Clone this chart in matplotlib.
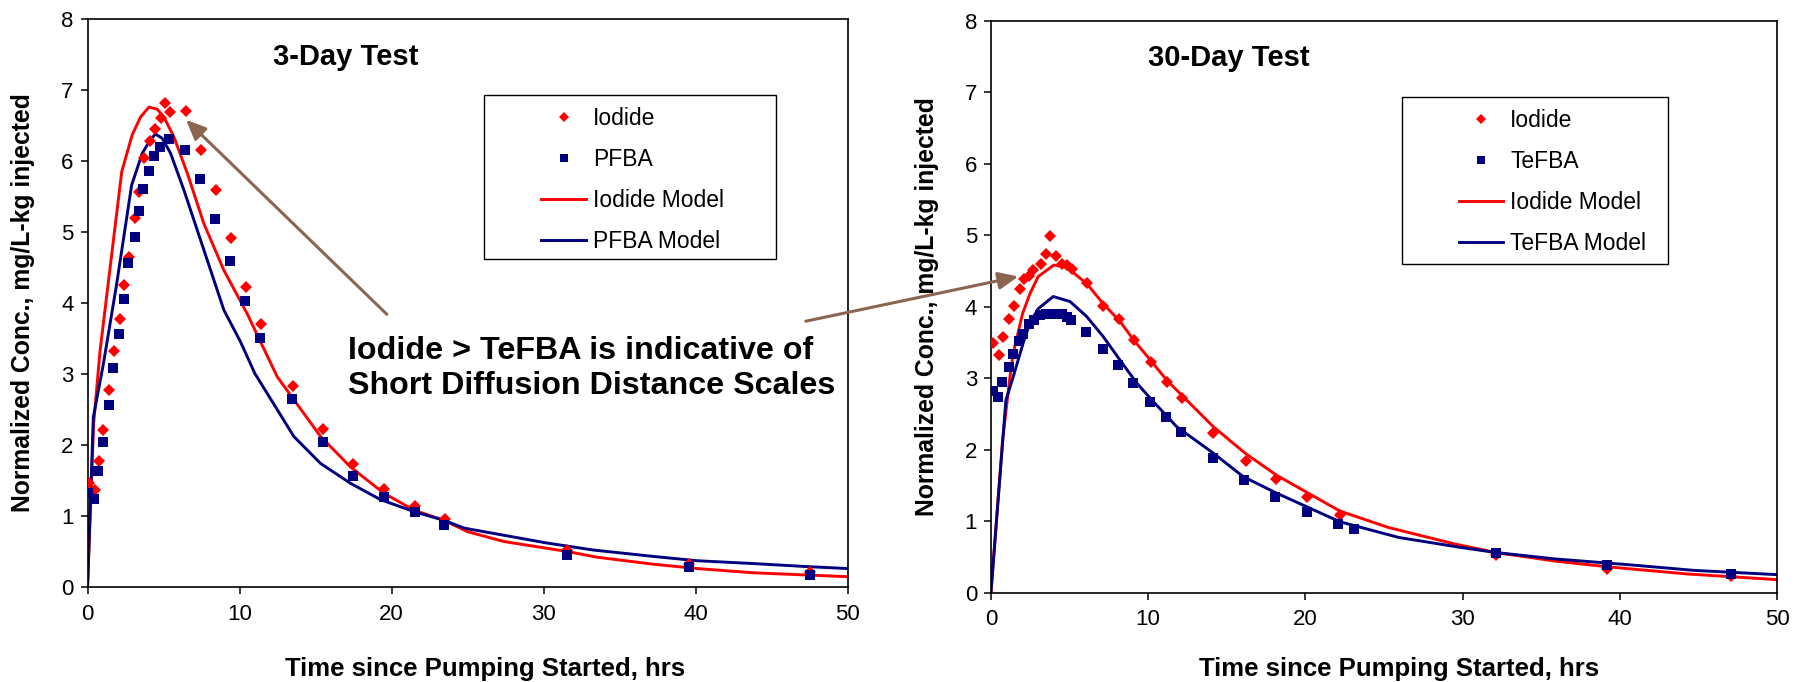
import matplotlib
matplotlib.use("Agg")
import matplotlib.pyplot as plt
from matplotlib.lines import Line2D
from matplotlib.patches import Rectangle

# ── 3-Day test ────────────────────────────────────────────────────────
d3_iod_t = [0.07, 0.46, 0.74, 1.03, 1.43, 1.73, 2.13, 2.43, 2.72, 3.13, 3.40, 3.73,
            4.10, 4.45, 4.80, 5.11, 5.42, 6.47, 7.48, 8.44, 9.43, 10.44, 11.40,
            13.51, 15.46, 17.43, 19.47, 21.51, 23.49, 31.56, 39.56, 47.52]
d3_iod_c = [1.47, 1.37, 1.77, 2.21, 2.78, 3.33, 3.78, 4.25, 4.65, 5.20, 5.56, 6.04,
            6.28, 6.45, 6.60, 6.82, 6.69, 6.70, 6.15, 5.59, 4.92, 4.23, 3.71,
            2.83, 2.23, 1.73, 1.38, 1.14, 0.96, 0.52, 0.32, 0.21]
d3_trc_t = [0.02, 0.44, 0.72, 1.01, 1.40, 1.68, 2.08, 2.37, 2.68, 3.09, 3.36, 3.68,
            4.06, 4.39, 4.76, 5.35, 6.43, 7.43, 8.40, 9.39, 10.39, 11.36,
            13.44, 15.46, 17.43, 19.47, 21.51, 23.44, 31.56, 39.56, 47.52]
d3_trc_c = [1.32, 1.24, 1.64, 2.04, 2.56, 3.08, 3.57, 4.05, 4.57, 4.93, 5.30, 5.61,
            5.86, 6.07, 6.20, 6.31, 6.16, 5.75, 5.19, 4.59, 4.03, 3.51,
            2.65, 2.04, 1.57, 1.27, 1.05, 0.88, 0.45, 0.28, 0.17]
d3_iod_mod_t = [0, 0.4, 0.82, 1.48, 2.25, 2.94, 3.49, 4.04, 4.58, 5.02, 5.68, 6.56,
                7.65, 8.97, 10.5, 12.48, 15.33, 17.3, 19.5, 21.5, 23.44, 24.98,
                27.4, 31.56, 33.5, 37.25, 40.1, 43.8, 50]
d3_iod_mod_c = [0, 2.3, 3.32, 4.49, 5.85, 6.37, 6.62, 6.76, 6.73, 6.62, 6.34, 5.83,
                5.12, 4.46, 3.85, 2.96, 2.12, 1.69, 1.32, 1.08, 0.94, 0.78,
                0.64, 0.50, 0.42, 0.32, 0.26, 0.20, 0.145]
d3_trc_mod_t = [0, 0.38, 1.04, 1.91, 2.9, 3.6, 4.14, 4.47, 4.91, 5.46, 6.34, 7.43,
                8.97, 10.07, 11.0, 13.57, 15.33, 17.3, 19.28, 21.5, 23.44, 24.76,
                30.2, 33.3, 37.25, 40.1, 43.8, 47.1, 50]
d3_trc_mod_c = [0, 2.39, 3.14, 4.26, 5.66, 6.11, 6.30, 6.38, 6.32, 6.11, 5.59, 4.89,
                3.90, 3.45, 3.01, 2.12, 1.74, 1.46, 1.23, 1.06, 0.94, 0.83,
                0.62, 0.52, 0.43, 0.37, 0.33, 0.29, 0.26]

# ── 30-Day test ───────────────────────────────────────────────────────
d30_iod_t = [0.15, 0.51, 0.78, 1.16, 1.44, 1.83, 2.10, 2.44, 2.69, 3.18, 3.48, 3.75,
             4.13, 4.50, 4.85, 5.13, 6.09, 7.14, 8.14, 9.10, 10.16, 11.18, 12.13,
             14.10, 16.20, 18.10, 20.13, 22.2, 32.1, 39.2, 47.1]
d30_iod_c = [3.49, 3.32, 3.58, 3.82, 4.01, 4.24, 4.39, 4.43, 4.51, 4.60, 4.73, 4.98,
             4.71, 4.60, 4.58, 4.52, 4.33, 4.01, 3.83, 3.53, 3.23, 2.95, 2.72,
             2.23, 1.84, 1.59, 1.33, 1.08, 0.52, 0.33, 0.23]
d30_trc_t = [0.15, 0.45, 0.72, 1.13, 1.40, 1.78, 2.06, 2.44, 2.74, 3.12, 3.48, 3.82,
             4.18, 4.50, 4.82, 5.11, 6.04, 7.12, 8.10, 9.05, 10.13, 11.13, 12.07,
             14.10, 16.10, 18.07, 20.13, 22.1, 23.1, 32.1, 39.2, 47.1]
d30_trc_c = [2.82, 2.73, 2.95, 3.16, 3.33, 3.52, 3.62, 3.75, 3.81, 3.88, 3.90, 3.90,
             3.90, 3.90, 3.86, 3.81, 3.64, 3.41, 3.18, 2.93, 2.67, 2.46, 2.25,
             1.88, 1.57, 1.33, 1.12, 0.96, 0.89, 0.55, 0.38, 0.26]
d30_iod_mod_t = [0, 0.74, 1.2, 1.42, 2.01, 2.48, 3.01, 4.0, 4.82, 6.09, 7.14, 8.21,
                 9.16, 10.22, 11.18, 14.14, 16.16, 18.17, 22.19, 25.28, 29.47, 32.1,
                 35.87, 39.2, 44.26, 50]
d30_iod_mod_c = [0, 2.13, 3.0, 3.35, 3.90, 4.18, 4.42, 4.58, 4.55, 4.32, 4.04, 3.79,
                 3.51, 3.23, 2.97, 2.32, 1.95, 1.64, 1.14, 0.91, 0.68, 0.56,
                 0.44, 0.36, 0.26, 0.18]
d30_trc_mod_t = [0, 0.95, 1.42, 2.05, 2.48, 3.01, 3.96, 5.03, 6.09, 7.14, 8.21, 9.27,
                 10.33, 11.81, 14.14, 16.05, 18.17, 22.19, 25.94, 29.9, 32.1, 35.87,
                 40.5, 44.7, 50]
d30_trc_mod_c = [0, 2.69, 3.02, 3.49, 3.77, 3.97, 4.14, 4.07, 3.86, 3.58, 3.25, 2.93,
                 2.67, 2.32, 1.95, 1.62, 1.39, 0.99, 0.77, 0.63, 0.56, 0.47,
                 0.39, 0.31, 0.25]

x_ticks = [0, 10, 20, 30, 40, 50]
y_ticks = list(range(0, 9))

RED = "#FF0000"
NAVY = "#000080"
BROWN = "#8B6550"
LW = 2.1
MS_D = 6.4   # diamonds
MS_S = 7.0   # squares

plt.rcParams["font.family"] = ["Liberation Sans", "DejaVu Sans"]

fig = plt.figure(figsize=(18.05, 6.82), dpi=100)
ax1 = fig.add_axes([0.0485, 0.1393, 0.4211, 0.8328])
ax2 = fig.add_axes([0.5490, 0.1312, 0.4355, 0.8387])


def draw_panel(ax, it, ic, tt, tc, imt, imc, tmt, tmc, tracer, title, title_xy,
               leg_xy, box):
    ax.plot(imt, imc, color=RED, lw=LW, zorder=2)
    ax.plot(tmt, tmc, color=NAVY, lw=LW, zorder=2)
    ax.plot(it, ic, "D", color=RED, ms=MS_D, mew=0, zorder=3)
    ax.plot(tt, tc, "s", color=NAVY, ms=MS_S, mew=0, zorder=3)

    ax.set_xlim(0, 50)
    ax.set_ylim(0, 8)
    ax.set_xticks(x_ticks)
    ax.set_yticks(y_ticks)
    ax.tick_params(direction="out", length=5, width=1.1, labelsize=16)
    ax.tick_params(axis="x", pad=7)
    ax.tick_params(axis="y", pad=5)
    for s in ax.spines.values():
        s.set_linewidth(1.2)

    ax.set_xlabel("Time since Pumping Started, hrs", fontsize=18.5, fontweight="bold")
    ax.set_ylabel("Normalized Conc., mg/L-kg injected", fontsize=17.8, fontweight="bold")
    ax.xaxis.label.set_va("center")
    ax.yaxis.label.set_va("center")

    ax.text(title_xy[0], title_xy[1], title, transform=ax.transAxes,
            ha="center", va="center", fontsize=21, fontweight="bold")

    handles = [
        Line2D([], [], ls="none", marker="D", color=RED, ms=MS_D - 0.8, mew=0),
        Line2D([], [], ls="none", marker="s", color=NAVY, ms=MS_S - 0.8, mew=0),
        Line2D([], [], color=RED, lw=LW),
        Line2D([], [], color=NAVY, lw=LW),
    ]
    labels = ["Iodide", tracer, "Iodide Model", tracer + " Model"]
    ax.legend(handles, labels, loc="upper left", bbox_to_anchor=leg_xy,
              frameon=False, borderaxespad=0, borderpad=0, fontsize=16.5,
              handlelength=1.95, handletextpad=0.3, labelspacing=0.78,
              numpoints=1)
    ax.add_patch(Rectangle((box[0], box[1]), box[2], box[3], transform=ax.transAxes,
                           fill=False, ec="black", lw=1.0, clip_on=False))


draw_panel(ax1, d3_iod_t, d3_iod_c, d3_trc_t, d3_trc_c,
           d3_iod_mod_t, d3_iod_mod_c, d3_trc_mod_t, d3_trc_mod_c,
           "PFBA", "3-Day Test", (0.34, 0.933), (0.597, 0.845),
           (0.522, 0.577, 0.384, 0.289))
draw_panel(ax2, d30_iod_t, d30_iod_c, d30_trc_t, d30_trc_c,
           d30_iod_mod_t, d30_iod_mod_c, d30_trc_mod_t, d30_trc_mod_c,
           "TeFBA", "30-Day Test", (0.303, 0.935), (0.595, 0.845),
           (0.523, 0.574, 0.338, 0.292))

ax1.xaxis.set_label_coords(0.523, -0.144)
ax1.yaxis.set_label_coords(-0.085, 0.5)
ax2.xaxis.set_label_coords(0.519, -0.134)
ax2.yaxis.set_label_coords(-0.081, 0.5)

# ── callout text + arrows ─────────────────────────────────────────────
fig.text(0.1928, 0.46, "Iodide > TeFBA is indicative of\nShort Diffusion Distance Scales",
         fontsize=23.2, fontweight="bold", ha="left", va="center", linespacing=1.2)

arrow = dict(arrowstyle="-|>,head_length=0.8,head_width=0.35", color=BROWN,
             lw=2.2, mutation_scale=15, shrinkA=0, shrinkB=0)
ax1.annotate("", xy=(6.48, 6.58), xycoords="data",
             xytext=(0.2143, 0.5392), textcoords="figure fraction",
             arrowprops=arrow, annotation_clip=False)
ax2.annotate("", xy=(1.74, 4.42), xycoords="data",
             xytext=(0.4464, 0.5290), textcoords="figure fraction",
             arrowprops=arrow, annotation_clip=False)

fig.savefig("out.png", dpi=100)
